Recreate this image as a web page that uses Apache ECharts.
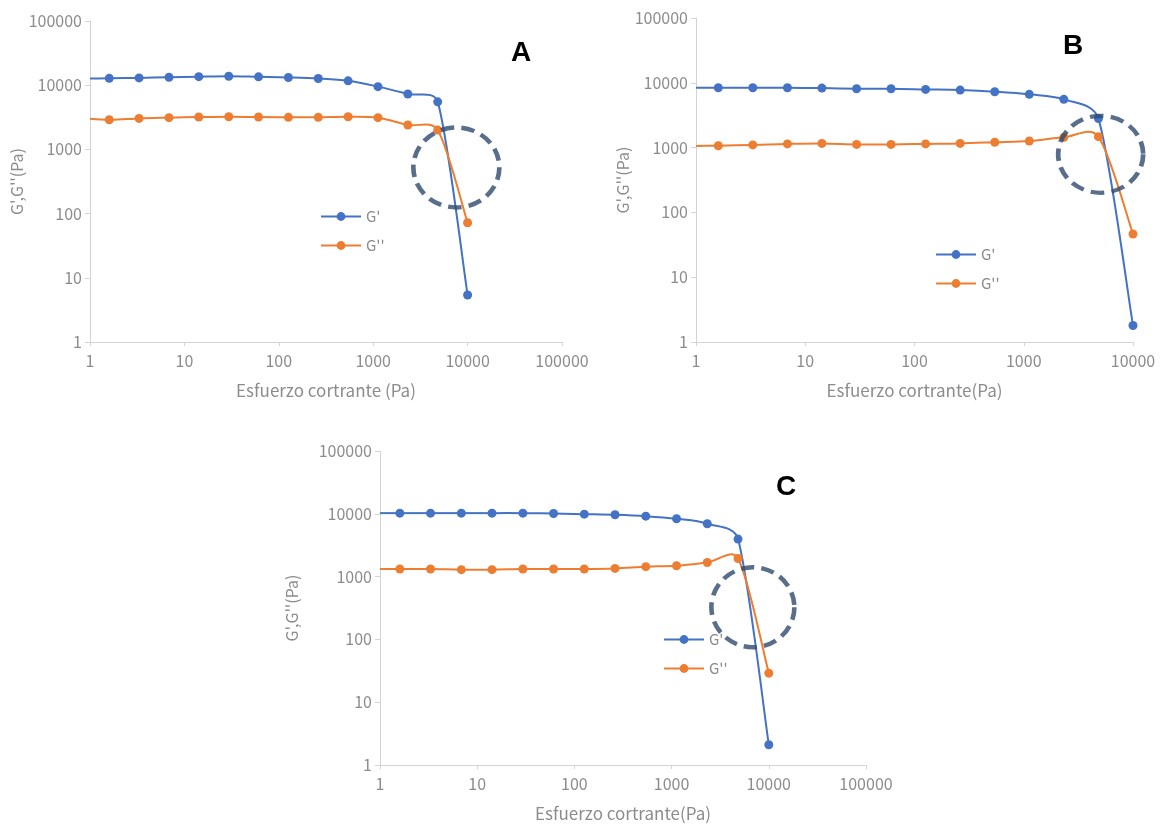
<!DOCTYPE html>
<html>
<head>
<meta charset="utf-8">
<script src="https://cdn.jsdelivr.net/npm/echarts@6/dist/echarts.min.js"></script>
<style>
  html, body { margin: 0; padding: 0; background: #ffffff; }
  #chart { width: 1165px; height: 828px; }
</style>
</head>
<body>
<div id="chart"></div>
<script>
// Shear stress sweep (Pa); the first step sits just below the axis start
const stress = [0.77, 1.6, 3.31, 6.87, 14.2, 29.5, 61.0, 126.4, 261.9, 542.6, 1124, 2328, 4824, 10000];

// Sample A
const storageA = [12600, 12800, 13000, 13300, 13600, 13800, 13500, 13200, 12700, 11700, 9500, 7300, 5500, 5.4];
const lossA    = [3100, 2900, 3040, 3120, 3190, 3230, 3190, 3160, 3160, 3230, 3120, 2400, 2000, 72];

// Sample B
const storageB = [8400, 8380, 8380, 8380, 8280, 8090, 8090, 7900, 7720, 7290, 6630, 5550, 2800, 1.8];
const lossB    = [1060, 1070, 1100, 1140, 1160, 1120, 1120, 1140, 1160, 1210, 1265, 1440, 1475, 46.5];

// Sample C
const storageC = [10250, 10250, 10250, 10250, 10250, 10250, 10120, 9880, 9640, 9180, 8330, 6940, 3960, 2.1];
const lossC    = [1330, 1320, 1320, 1290, 1290, 1320, 1320, 1320, 1350, 1440, 1490, 1680, 1940, 29];

// Crossover regions marked with dashed rings: [stress, modulus]
const ringA = [7600, 523];
const ringB = [5060, 788];
const ringC = [6860, 325];

const panelLetters = ['A', 'B', 'C'];
const seriesNames = ["G'", "G''"];
const yName = "G',G''(Pa)";
const xNames = ['Esfuerzo cortrante (Pa)', 'Esfuerzo cortrante(Pa)', 'Esfuerzo cortrante(Pa)'];
const xMax = [100000, 10000, 100000];

const BLUE = '#4472C4';
const ORANGE = '#ED7D31';
const RING = '#2E4A6E';
const GREY = '#8c8c8c';
const AXIS = '#d4d4d4';
const FONT = '"Noto Sans CJK SC", "Noto Sans", sans-serif';

const pair = (xs, ys) => xs.map((x, i) => [x, ys[i]]);
const plain = v => String(Math.round(v));

const grids = [
  { left: 90,  top: 21,  width: 472, height: 321 },
  { left: 696, top: 18,  width: 437, height: 324 },
  { left: 380, top: 451, width: 486, height: 314 }
];
const yNameGaps = [54, 64, 80];
const ringSizes = [[86, 80], [85, 77], [83, 80]];
const rings = [ringA, ringB, ringC];
const panels = [[storageA, lossA], [storageB, lossB], [storageC, lossC]];

const xAxes = grids.map((g, i) => ({
  type: 'log', logBase: 10, gridIndex: i, min: 1, max: xMax[i],
  name: xNames[i], nameLocation: 'middle', nameGap: 40,
  nameTextStyle: { color: GREY, fontSize: 17, fontFamily: FONT },
  axisLine: { show: true, lineStyle: { color: AXIS, width: 1 } },
  axisTick: { show: true, length: 4, lineStyle: { color: AXIS } },
  splitLine: { show: false },
  axisLabel: { color: GREY, fontSize: 16, fontFamily: FONT, margin: 11, formatter: plain }
}));

const yAxes = grids.map((g, i) => ({
  type: 'log', logBase: 10, gridIndex: i, min: 1, max: 100000,
  name: yName, nameLocation: 'middle', nameGap: yNameGaps[i], nameRotate: 90,
  nameTextStyle: { color: GREY, fontSize: 16, fontFamily: FONT },
  axisLine: { show: true, lineStyle: { color: AXIS, width: 1 } },
  axisTick: { show: true, length: 5, lineStyle: { color: AXIS } },
  splitLine: { show: false },
  axisLabel: { color: GREY, fontSize: 16, fontFamily: FONT, margin: 8, formatter: plain }
}));

// Smoothed connecting curve: cubic Bezier segments whose control arms follow
// the neighbouring points (one sixth of the chord), each arm limited to a
// fraction of its own segment so short segments next to steep drops stay tame.
const ARM_LIMIT = 0.4;
function arm(dx, dy, segLen) {
  const len = Math.hypot(dx, dy);
  const maxLen = ARM_LIMIT * segLen;
  if (len > maxLen && len > 0) {
    const s = maxLen / len;
    return [dx * s, dy * s];
  }
  return [dx, dy];
}

function curveSeries(xs, ys, color, axisIndex, z) {
  const n = xs.length;
  return {
    type: 'custom', name: 'curve', xAxisIndex: axisIndex, yAxisIndex: axisIndex,
    data: pair(xs, ys), encode: { x: 0, y: 1 }, clip: true, silent: true, z,
    renderItem(params, api) {
      const i = params.dataIndex;
      if (i >= n - 1) return null;
      const at = k => {
        const j = Math.max(0, Math.min(n - 1, k));
        return api.coord([xs[j], ys[j]]);
      };
      const p0 = at(i - 1), p1 = at(i), p2 = at(i + 1), p3 = at(i + 2);
      const seg = Math.hypot(p2[0] - p1[0], p2[1] - p1[1]);
      const a1 = arm((p2[0] - p0[0]) / 6, (p2[1] - p0[1]) / 6, seg);
      const a2 = arm((p3[0] - p1[0]) / 6, (p3[1] - p1[1]) / 6, seg);
      const cs = params.coordSys;
      return {
        type: 'bezierCurve',
        shape: {
          x1: p1[0], y1: p1[1],
          cpx1: p1[0] + a1[0], cpy1: p1[1] + a1[1],
          cpx2: p2[0] - a2[0], cpy2: p2[1] - a2[1],
          x2: p2[0], y2: p2[1]
        },
        style: { stroke: color, lineWidth: 2, fill: 'none' },
        clipPath: { type: 'rect', shape: { x: cs.x, y: cs.y, width: cs.width, height: cs.height } }
      };
    }
  };
}

const series = [];
panels.forEach((p, i) => {
  [BLUE, ORANGE].forEach((color, k) => {
    series.push(curveSeries(stress, p[k], color, i, 3 + 2 * k));
    series.push({
      type: 'line', name: seriesNames[k],
      xAxisIndex: i, yAxisIndex: i,
      data: pair(stress, p[k]),
      clip: true,
      symbol: 'circle', symbolSize: 9, showSymbol: true,
      lineStyle: { color, width: 2, opacity: 0 },
      itemStyle: { color },
      emphasis: { disabled: true },
      z: 4 + 2 * k
    });
  });
  series.push({
    type: 'scatter', name: 'ring' + panelLetters[i],
    xAxisIndex: i, yAxisIndex: i,
    data: [rings[i]],
    symbol: 'circle', symbolSize: ringSizes[i],
    itemStyle: { color: 'rgba(0,0,0,0)', borderColor: RING, borderWidth: 4.5, borderType: [13, 7] },
    silent: true, z: 10
  });
});

const legendPos = [
  { left: 320, top: 209 },
  { left: 935, top: 247 },
  { left: 663, top: 632 }
];

const option = {
  backgroundColor: '#ffffff',
  animation: false,
  title: [
    { text: 'A', left: 511, top: 39 },
    { text: 'B', left: 1063, top: 32 },
    { text: 'C', left: 776, top: 473 }
  ].map(t => Object.assign(t, {
    padding: 0,
    textStyle: { color: '#000', fontSize: 28, fontWeight: 'bold', fontFamily: '"Liberation Sans", Arial, sans-serif' }
  })),
  legend: legendPos.map(pos => Object.assign({
    data: seriesNames, orient: 'vertical', selectedMode: false,
    itemWidth: 40, itemHeight: 11, itemGap: 14, padding: 0,
    lineStyle: { opacity: 1, width: 2 },
    textStyle: { color: GREY, fontSize: 15, fontFamily: FONT }
  }, pos)),
  grid: grids,
  xAxis: xAxes,
  yAxis: yAxes,
  series
};

const chart = echarts.init(document.getElementById('chart'), null, { renderer: 'canvas' });
chart.setOption(option);
</script>
</body>
</html>
